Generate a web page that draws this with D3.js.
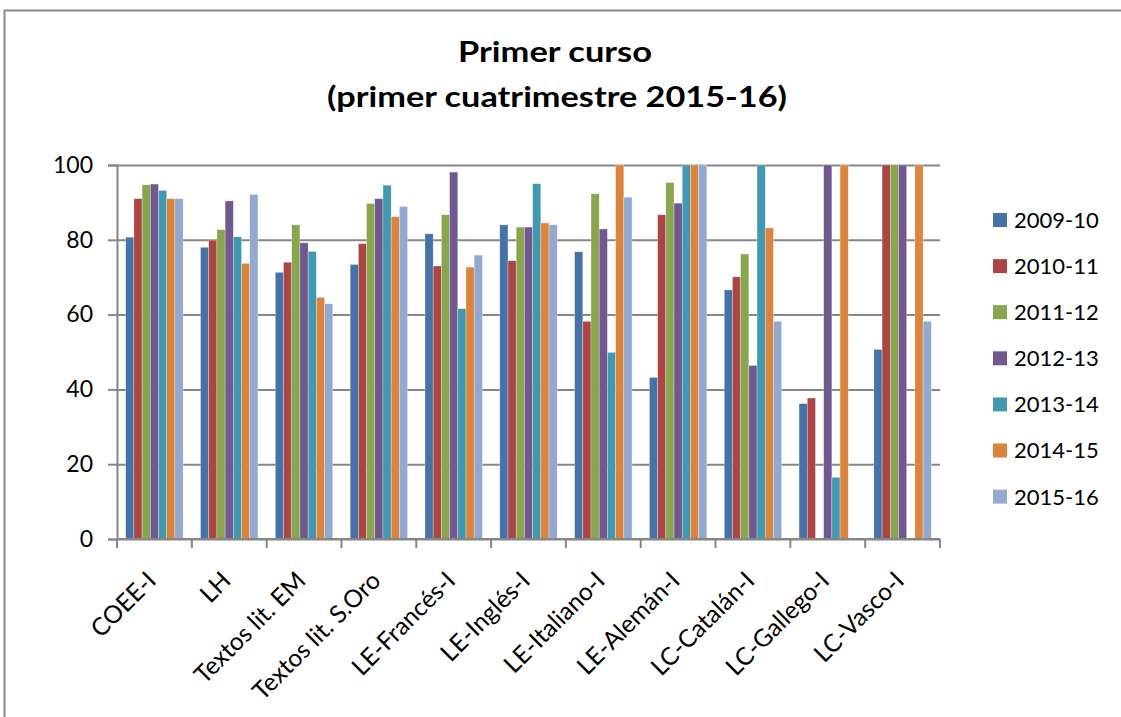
<!DOCTYPE html>
<html>
<head>
<meta charset="utf-8">
<script src="https://cdn.jsdelivr.net/npm/d3@7"></script>
<style>
  html, body { margin: 0; background: #fff; overflow: hidden; }
  svg { display: block; }
  text { font-family: Lato, "Open Sans", sans-serif; fill: #000; }
</style>
</head>
<body>
<div id="chart"></div>
<script>
// categories and series (one array per academic year)
var categories = ["COEE-I", "LH", "Textos lit. EM", "Textos lit. S.Oro", "LE-Francés-I", "LE-Inglés-I",
                  "LE-Italiano-I", "LE-Alemán-I", "LC-Catalán-I", "LC-Gallego-I", "LC-Vasco-I"];
var years = ["2009-10", "2010-11", "2011-12", "2012-13", "2013-14", "2014-15", "2015-16"];

var s2009 = [80.7, 78.0, 71.3, 73.4, 81.6, 84.0, 76.8, 43.2, 66.6, 36.2, 50.7];
var s2010 = [91.0, 79.9, 74.0, 79.0, 73.0, 74.4, 58.2, 86.7, 70.1, 37.7, 100];
var s2011 = [94.7, 82.7, 84.0, 89.7, 86.7, 83.4, 92.3, 95.3, 76.2, null, 100];
var s2012 = [94.9, 90.4, 79.2, 91.0, 98.1, 83.4, 82.9, 89.8, 46.4, 100, 100];
var s2013 = [93.2, 80.8, 76.9, 94.6, 61.6, 95.0, 49.9, 100, 100, 16.5, null];
var s2014 = [91.0, 73.7, 64.6, 86.2, 72.7, 84.5, 100, 100, 83.2, 100, 100];
var s2015 = [91.0, 92.1, 62.9, 88.9, 75.9, 84.0, 91.4, 100, 58.2, null, 58.2];

var yTicks = [0, 20, 40, 60, 80, 100];
var colors = ["#4572A7", "#AA4643", "#89A54E", "#71588F", "#4198AF", "#DB843D", "#93A9CF"];

var series = [s2009, s2010, s2011, s2012, s2013, s2014, s2015];

var W = 1121, H = 717;
var margin = {top: 165, right: 181, bottom: 178, left: 117},
    width = W - margin.left - margin.right,
    height = H - margin.top - margin.bottom;

var svg = d3.select("#chart").append("svg")
    .attr("width", W)
    .attr("height", H);

// chart frame: only the left and top edges are inside the picture
svg.append("path")
    .attr("d", "M4.5," + H + "V10.5H" + W)
    .attr("fill", "none")
    .attr("stroke", "#898989")
    .attr("stroke-width", 2);

svg.append("text")
    .attr("x", 555).attr("y", 62)
    .attr("text-anchor", "middle")
    .attr("textLength", 194).attr("lengthAdjust", "spacingAndGlyphs")
    .style("font-size", "28px").style("font-weight", "bold")
    .text("Primer curso");
svg.append("text")
    .attr("x", 557).attr("y", 107)
    .attr("text-anchor", "middle")
    .attr("textLength", 460).attr("lengthAdjust", "spacingAndGlyphs")
    .style("font-size", "28px").style("font-weight", "bold")
    .text("(primer cuatrimestre 2015-16)");

var g = svg.append("g")
    .attr("transform", "translate(" + margin.left + "," + margin.top + ")");

var x0 = d3.scaleBand().domain(categories).range([0, width]).padding(0);
var x1 = d3.scaleBand().domain(years).range([0, x0.bandwidth()]).paddingInner(0).paddingOuter(1.06);
var y = d3.scaleLinear().domain([0, 100]).range([height, 0]);

// gridlines
g.append("g")
    .attr("class", "grid")
    .call(d3.axisLeft(y).tickValues(yTicks).tickSize(-width).tickFormat(""))
    .call(function(s) {
      s.select(".domain").remove();
      s.selectAll("line").attr("stroke", "#868686").attr("stroke-width", 2);
    });

// bars
var rows = categories.map(function(c, i) {
  return {cat: c, vals: years.map(function(yr, j) { return {year: yr, v: series[j][i], k: j}; })};
});

g.selectAll(".cat")
    .data(rows)
  .enter().append("g")
    .attr("class", "cat")
    .attr("transform", function(d) { return "translate(" + x0(d.cat) + ",0)"; })
  .selectAll("rect")
    .data(function(d) { return d.vals.filter(function(e) { return e.v != null; }); })
  .enter().append("rect")
    .attr("x", function(d) { return x1(d.year); })
    .attr("width", x1.bandwidth())
    .attr("y", function(d) { return y(d.v); })
    .attr("height", function(d) { return height - y(d.v); })
    .attr("fill", function(d) { return colors[d.k]; })
    .attr("stroke", "rgba(255,255,255,0.5)")
    .attr("stroke-width", 0.6);

// y axis
g.append("g")
    .attr("class", "y axis")
    .call(d3.axisLeft(y).tickValues(yTicks).tickSize(9).tickPadding(15))
    .call(function(s) {
      s.select(".domain").attr("stroke", "#868686").attr("stroke-width", 2);
      s.selectAll("line").attr("stroke", "#868686").attr("stroke-width", 2);
      s.selectAll("text").style("font-size", "23px").attr("fill", "#000");
    });

// x axis
var xb = g.append("g")
    .attr("class", "x axis")
    .attr("transform", "translate(0," + height + ")");
xb.append("line")
    .attr("x1", 0).attr("x2", width)
    .attr("stroke", "#868686").attr("stroke-width", 2);
xb.selectAll(".tk")
    .data(d3.range(categories.length + 1))
  .enter().append("line")
    .attr("x1", function(i) { return i * x0.step(); })
    .attr("x2", function(i) { return i * x0.step(); })
    .attr("y1", 0).attr("y2", 9)
    .attr("stroke", "#868686").attr("stroke-width", 2);
xb.selectAll(".lbl")
    .data(categories)
  .enter().append("text")
    .attr("text-anchor", "end")
    .attr("transform", function(d) {
      return "translate(" + (x0(d) + x0.bandwidth() / 2 - 9) + ",31) rotate(-45)";
    })
    .attr("dy", "0.7em")
    .style("font-size", "24.5px")
    .text(function(d) { return d; });

// legend
var legend = svg.append("g").attr("transform", "translate(993,220)");
var li = legend.selectAll(".li")
    .data(years)
  .enter().append("g")
    .attr("transform", function(d, i) { return "translate(0," + (i * 46.1) + ")"; });
li.append("rect")
    .attr("x", 0).attr("y", -7)
    .attr("width", 14).attr("height", 14)
    .attr("fill", function(d, i) { return colors[i]; });
li.append("text")
    .attr("x", 21).attr("dy", "0.36em")
    .style("font-size", "22px")
    .text(function(d) { return d; });
</script>
</body>
</html>
